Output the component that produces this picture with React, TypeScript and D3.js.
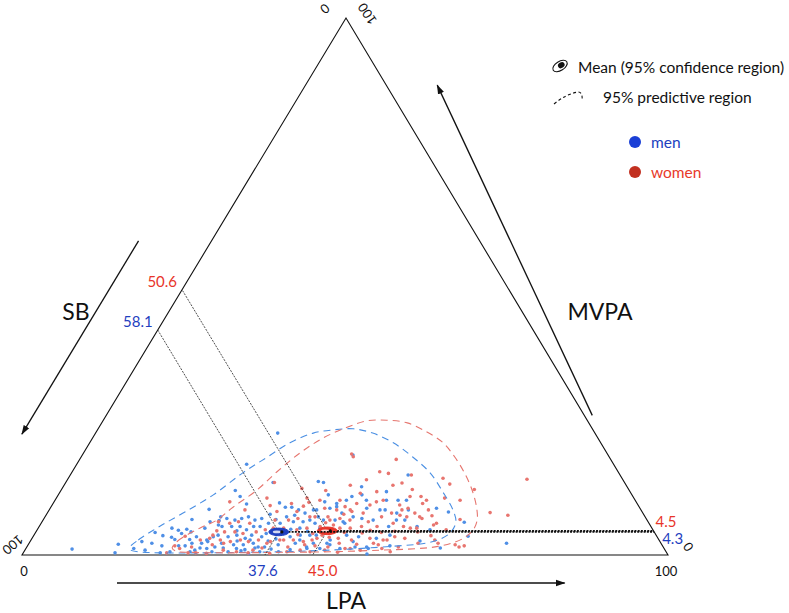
import React from 'react';
import * as d3 from 'd3';

// [LPA %, MVPA %]; SB = 100 - LPA - MVPA
const menPoints: [number, number][] = [
  [24.7,8.5],[20.7,5.0],[18.5,4.2],[17.3,2.5],[16.7,1.2],[19.0,2.2],[20.8,1.7],[22.7,4.0],[23.1,4.8],[24.0,4.3],
  [25.3,3.4],[25.8,5.0],[26.0,6.2],[27.6,5.6],[26.7,2.2],[24.5,2.9],[24.4,1.7],[22.2,2.9],[23.4,1.7],[22.6,0.6],
  [26.3,0.9],[28.0,1.2],[29.1,1.5],[27.9,3.4],[13.9,2.0],[14.2,0.4],[7.2,1.1],[32.1,13.5],[27.0,12.0],[28.3,6.8],
  [28.3,10.9],[27.3,6.4],[21.9,4.6],[21.5,3.3],[28.2,22.7],[26.3,16.9],[35.0,9.7],[36.3,8.9],[37.3,8.9],[38.6,8.4],
  [39.9,7.8],[38.5,7.4],[37.4,7.1],[27.2,7.1],[29.7,6.5],[30.6,6.8],[31.5,7.1],[32.8,6.5],[33.7,6.8],[28.3,5.3],
  [29.8,5.3],[31.1,5.3],[32.4,4.7],[33.2,5.3],[34.2,5.3],[35.2,5.9],[37.0,5.9],[38.9,6.2],[40.4,6.2],[41.3,6.5],
  [28.5,3.7],[30.2,3.4],[31.4,3.7],[33.0,3.1],[33.7,3.7],[35.4,3.4],[39.8,3.4],[41.2,3.7],[42.7,3.7],[29.8,2.2],
  [31.8,1.9],[33.3,1.9],[34.7,2.2],[36.8,1.5],[38.7,1.9],[41.2,2.2],[43.3,1.5],[31.6,0.6],[34.9,0.3],[36.5,0.6],
  [39.4,0.6],[41.9,18.6],[39.0,13.7],[39.9,13.5],[46.2,12.7],[52.3,14.9],[50.5,11.8],[53.1,10.2],[54.4,10.2],[47.0,11.2],
  [45.1,10.2],[41.8,11.2],[41.9,9.9],[43.9,9.6],[45.6,10.9],[51.2,8.4],[52.0,8.4],[49.0,8.7],[41.4,8.4],[43.3,8.7],
  [45.6,7.8],[47.7,7.1],[49.2,6.8],[43.4,6.5],[45.2,6.5],[42.4,5.9],[47.0,5.9],[51.1,6.5],[54.7,6.5],[56.0,6.5],
  [54.1,5.3],[43.7,3.7],[48.4,3.7],[50.4,3.4],[53.3,3.1],[55.1,3.7],[44.0,2.2],[46.7,1.9],[48.6,1.2],[50.8,1.5],
  [53.0,1.2],[53.3,0.2],[59.8,8.7],[62.0,8.0],[65.4,6.1],[60.8,4.7],[67.3,3.5],[73.9,2.2],[55.6,8.4],[36.4,4.7],
  [38.6,4.3],[36.8,2.6],[40.5,5.0],[35.4,1.3],[29.1,0.6],[25.7,0.6],[21.2,0.4],[18.6,0.9],[26.9,1.3],[43.6,5.0],
  [46.3,2.8],[64.1,1.3],[60.3,2.6],[56.1,1.7],
  [34.0,1.0],[37.8,3.0],[32.0,2.6],[30.5,1.3],[35.8,4.0],[38.0,1.1],[27.5,2.5],[25.2,2.2],[33.5,0.8],[31.0,4.5],
  [39.2,4.8],[42.0,4.4],[44.8,4.3],[36.0,6.6],[34.6,7.6],[30.0,9.5],[23.0,6.6],[20.0,3.6],[45.5,1.2],[41.0,1.0],
  [27.2,2.8],[32.6,1.2],[33.9,2.8],[35.8,1.5],[41.6,2.8],[43.5,1.2],[40.9,8.4],[42.3,7.1],[44.2,9.0],[46.6,6.2],
  [48.2,10.2],[51.3,10.2],[54.1,7.8],[58.5,5.3],[46.1,2.2],[50.0,2.5],[52.6,1.5]
];

const womenPoints: [number, number][] = [
  [22.8,1.7],[23.8,1.2],[25.5,1.5],[26.2,2.8],[27.5,3.1],[27.9,4.5],[27.3,6.2],[25.5,0.4],[28.4,0.3],[22.2,0.4],
  [32.3,13.5],[27.2,9.9],[32.6,10.6],[37.1,12.4],[38.8,10.6],[36.9,9.6],[39.0,9.1],[35.4,8.1],[38.5,8.1],[29.2,5.9],
  [30.4,6.2],[32.3,5.9],[35.9,6.5],[38.0,6.5],[39.3,6.8],[29.2,4.3],[30.8,4.3],[32.2,4.0],[34.1,4.3],[35.3,4.7],
  [36.4,5.0],[38.0,5.0],[40.2,4.7],[41.6,5.0],[29.3,2.8],[31.0,2.5],[32.4,2.8],[33.8,2.5],[35.2,2.8],[37.2,2.5],
  [39.1,2.8],[40.6,2.8],[42.3,2.5],[43.5,2.8],[30.7,0.9],[32.9,0.6],[35.3,0.9],[38.2,0.3],[40.7,0.6],[42.6,0.9],
  [44.3,0.6],[49.0,17.8],[47.6,15.5],[49.1,15.2],[46.3,14.0],[52.1,13.4],[50.9,13.0],[49.0,11.8],[50.8,10.2],[47.0,9.6],
  [49.2,9.3],[49.9,9.9],[53.8,9.3],[45.5,9.0],[42.5,8.7],[44.5,8.4],[47.0,8.1],[48.9,7.8],[53.3,7.8],[54.6,8.4],
  [55.4,8.7],[41.8,7.1],[43.8,7.1],[45.8,6.8],[47.5,6.5],[50.5,6.2],[52.1,7.1],[54.8,7.4],[56.0,7.1],[43.5,5.3],
  [45.4,5.6],[48.3,5.0],[49.9,5.3],[52.3,5.3],[54.5,5.9],[56.4,5.3],[44.1,3.1],[47.4,3.1],[49.6,2.8],[52.3,3.1],
  [54.5,2.8],[56.0,3.4],[57.7,3.1],[46.6,1.5],[49.4,1.2],[51.9,0.9],[55.1,1.2],[57.5,1.5],[56.7,0.6],[52.8,14.9],
  [58.0,14.3],[59.6,13.2],[54.3,12.2],[56.3,10.9],[54.6,10.9],[60.1,10.6],[62.7,10.2],[63.9,12.2],[58.7,8.4],[59.8,7.3],
  [56.9,7.8],[58.5,6.8],[64.5,6.6],[68.5,7.9],[71.5,7.4],[60.9,5.6],[57.6,5.0],[58.6,5.0],[63.3,4.7],[66.1,1.9],
  [63.3,2.2],[66.9,1.5],[67.6,1.7],[60.2,2.2],[62.5,2.8],[71.1,14.1],[41.6,18.8],[42.1,18.3],[44.6,3.7],[45.4,4.5],
  [44.5,1.7],[46.4,0.9],[36.5,1.3],[34.8,0.4],[26.7,0.4],[28.5,1.9],[46.7,5.0],[50.6,4.1],[54.2,1.9],[59.1,4.3],
  [40.4,1.5],[23.5,3.5],[30.3,8.4],
  [43.0,4.0],[45.9,3.3],[47.8,4.2],[42.8,1.9],[48.0,2.2],[50.8,2.0],[44.0,6.0],[40.8,3.8],[37.9,4.1],[46.0,7.6],
  [51.6,4.6],[53.5,4.2],[55.5,4.4],[39.5,9.8],[33.8,9.2],[41.0,12.0],[44.3,13.0],[57.2,9.6],[61.5,3.6],[48.6,0.5],
  [27.7,3.7],[30.1,2.2],[36.8,2.2],[38.5,2.8],[41.0,7.1],[41.0,10.2],[44.4,6.5],[44.1,10.2],[46.6,8.4],[46.6,11.5],
  [58.0,7.1],[57.5,10.2],[61.2,5.9],[55.1,2.8],[50.2,1.2],[53.3,2.2]
];

// 95% predictive regions, [LPA %, MVPA %]
const menRegion: [number, number][] = [
  [16.0,1.5],[16.6,2.8],[18.7,5.4],[21.2,8.0],[24.0,11.2],[26.5,15.3],[28.8,18.2],[31.0,20.9],[33.7,22.7],[36.5,23.3],
  [39.5,23.5],[42.9,22.7],[47.0,20.9],[51.4,18.2],[55.5,15.3],[59.3,11.7],[62.5,8.4],[64.1,6.1],[64.2,4.1],[63.0,2.8],
  [60.9,2.1],[58.4,1.8],[50.2,1.1],[42.7,0.7],[35.1,0.5],[27.4,0.4],[21.2,0.4],[17.7,0.6],[16.4,0.9]
];
const womenRegion: [number, number][] = [
  [22.6,1.3],[22.8,2.6],[25.0,5.0],[26.9,6.5],[28.2,8.9],[30.3,12.1],[31.7,15.5],[33.5,19.0],[35.7,21.8],[38.4,23.8],
  [40.9,25.0],[43.9,25.1],[47.3,24.6],[51.2,22.9],[54.7,20.9],[58.0,18.1],[61.0,15.1],[63.6,12.1],[65.9,8.9],[67.2,6.5],
  [67.5,4.7],[67.0,3.4],[65.8,2.4],[63.6,1.6],[60.7,1.2],[55.0,0.9],[47.4,0.6],[39.7,0.5],[32.0,0.4],[25.8,0.5],[23.5,0.7]
];

const menMean = { SB: 58.1, LPA: 37.6, MVPA: 4.3 };
const womenMean = { SB: 50.6, LPA: 45.0, MVPA: 4.5 };
const axisNames = ['SB', 'LPA', 'MVPA'];
const legendLabels = ['Mean (95% confidence region)', '95% predictive region', 'men', 'women'];

const FONT = 'Lato, "Liberation Sans", Arial, sans-serif';
const W = 789, H = 613;
const A = { x: 22, y: 555 };   // SB = 100
const B = { x: 668, y: 555 };  // LPA = 100
const C = { x: 346, y: 18 };   // MVPA = 100

const yScale = d3.scaleLinear().domain([0, 100]).range([A.y, C.y]);
const lpaScale = d3.scaleLinear().domain([0, 100]).range([0, B.x - A.x]);
const mvShift = d3.scaleLinear().domain([0, 100]).range([0, C.x - A.x]);
const proj = (lpa: number, mv: number): [number, number] => [A.x + lpaScale(lpa) + mvShift(mv), yScale(mv)];

const regionLine = d3.line<[number, number]>()
  .x(d => proj(d[0], d[1])[0])
  .y(d => proj(d[0], d[1])[1])
  .curve(d3.curveCatmullRomClosed.alpha(0.5));

const C_MEN_PT = '#4f8fe6';
const C_WOMEN_PT = '#e8756f';
const C_MEN = '#1f3fbf';
const C_WOMEN = '#e8352a';

function MeanGroup({ m, color, lpaDx, mvDx, mvDy }: any) {
  const p = proj(m.LPA, m.MVPA);
  const pSB = proj(0, 100 - m.SB);
  const pLPA = proj(m.LPA, 0);
  const pMV = proj(100 - m.MVPA, m.MVPA);
  return (
    <g>
      <line x1={p[0]} y1={p[1]} x2={pSB[0]} y2={pSB[1]} stroke="#222" strokeWidth={0.8} strokeDasharray="2,1.2" />
      <line x1={p[0]} y1={p[1]} x2={pLPA[0]} y2={pLPA[1]} stroke="#222" strokeWidth={0.8} strokeDasharray="2,1.2" />
      <line x1={p[0]} y1={p[1]} x2={pMV[0]} y2={pMV[1]} stroke="#111" strokeWidth={1.6} strokeDasharray="2,1.2" />
      <ellipse cx={p[0]} cy={p[1]} rx={10} ry={3.8} fill={color} stroke={color} strokeWidth={1} />
      <ellipse cx={p[0] - 2} cy={p[1]} rx={4} ry={1.4} fill="#fff" opacity={0.8} />
      <circle cx={p[0] + 3} cy={p[1]} r={1.6} fill="#111" />
      <text x={pSB[0] - 5} y={pSB[1] - 3} textAnchor="end" fontSize={15} fill={color} fontFamily={FONT}>{m.SB.toFixed(1)}</text>
      <text x={pLPA[0] + lpaDx} y={576} textAnchor="middle" fontSize={15} fill={color} fontFamily={FONT}>{m.LPA.toFixed(1)}</text>
      <text x={pMV[0] + mvDx} y={pMV[1] + mvDy} textAnchor="start" fontSize={15} fill={color} fontFamily={FONT}>{m.MVPA.toFixed(1)}</text>
    </g>
  );
}

export default function App() {
  // arrows beside the sides: SB grows toward the bottom-left, MVPA toward the top, LPA toward the right
  const leftArrow = [proj(0, 58.5), proj(0, 22.5)].map(d => [d[0] - 73, d[1]]);
  const rightArrow = [proj(74, 26), proj(12.5, 87.5)].map((d, i) => [d[0] + (i === 0 ? 8 : 51), d[1]]);
  const bottomArrow = [proj(14.7, 0), proj(84, 0)].map(d => [d[0], d[1] + 28]);
  const tick = (x: number, y: number, rot: number, s: string) => (
    <text transform={`translate(${x},${y}) rotate(${rot})`} textAnchor="middle" dominantBaseline="central"
      fontSize={13} fontFamily={FONT} fill="#111">{s}</text>
  );
  return (
    <svg width={W} height={H} style={{ position: 'absolute', left: 0, top: 0, background: '#fff' }}>
      <defs>
        <marker id="ah" viewBox="0 0 12 10" refX="11" refY="5" markerWidth="10" markerHeight="8" orient="auto" markerUnits="userSpaceOnUse">
          <path d="M0,1 L12,5 L0,9 z" fill="#111" />
        </marker>
      </defs>
      <rect width={W} height={H} fill="#fff" />
      <polygon points={`${A.x},${A.y} ${B.x},${B.y} ${C.x},${C.y}`} fill="none" stroke="#111" strokeWidth={1.1} />

      {menPoints.map((d, i) => {
        const p = proj(d[0], d[1]);
        return <circle key={'m' + i} cx={p[0]} cy={p[1]} r={1.8} fill={C_MEN_PT} />;
      })}
      {womenPoints.map((d, i) => {
        const p = proj(d[0], d[1]);
        return <circle key={'w' + i} cx={p[0]} cy={p[1]} r={1.8} fill={C_WOMEN_PT} />;
      })}

      <path d={regionLine(menRegion) || ''} fill="none" stroke="#4a8fe3" strokeWidth={1.1} strokeDasharray="7,5" />
      <path d={regionLine(womenRegion) || ''} fill="none" stroke="#e6766f" strokeWidth={1.1} strokeDasharray="7,5" />

      <MeanGroup m={womenMean} color={C_WOMEN} lpaDx={10} mvDx={2} mvDy={-4} />
      <MeanGroup m={menMean} color={C_MEN} lpaDx={-2} mvDx={8} mvDy={12} />

      {/* arrows */}
      <line x1={leftArrow[0][0]} y1={leftArrow[0][1]} x2={leftArrow[1][0]} y2={leftArrow[1][1]} stroke="#111" strokeWidth={1.3} markerEnd="url(#ah)" />
      <line x1={rightArrow[0][0]} y1={rightArrow[0][1]} x2={rightArrow[1][0]} y2={rightArrow[1][1]} stroke="#111" strokeWidth={1.3} markerEnd="url(#ah)" />
      <line x1={bottomArrow[0][0]} y1={bottomArrow[0][1]} x2={bottomArrow[1][0]} y2={bottomArrow[1][1]} stroke="#111" strokeWidth={1.3} markerEnd="url(#ah)" />

      {/* axis titles */}
      <text x={76} y={311} textAnchor="middle" dominantBaseline="central" fontSize={23} fontFamily={FONT} fill="#111">{axisNames[0]}</text>
      <text x={346} y={600} textAnchor="middle" dominantBaseline="central" fontSize={23} fontFamily={FONT} fill="#111">{axisNames[1]}</text>
      <text x={600} y={311} textAnchor="middle" dominantBaseline="central" fontSize={23} fontFamily={FONT} fill="#111">{axisNames[2]}</text>

      {/* vertex ticks */}
      {tick(24, 571, 0, '0')}
      {tick(666, 571, 0, '100')}
      {tick(13, 545, 140, '100')}
      {tick(325, 9, 140, '0')}
      {tick(367, 14, 235, '100')}
      {tick(688, 547, 235, '0')}

      {/* legend */}
      <g transform="translate(560,66) rotate(-32)">
        <ellipse cx={0} cy={0} rx={8} ry={4.5} fill="#fff" stroke="#111" strokeWidth={1.1} />
        <ellipse cx={1.5} cy={0} rx={3.5} ry={2.8} fill="#111" />
      </g>
      <text x={578} y={67} dominantBaseline="central" fontSize={15.5} fontFamily={FONT} fill="#111">{legendLabels[0]}</text>
      <path d="M554,104 Q566,94 578,92 Q583,92 582,101" fill="none" stroke="#111" strokeWidth={1.1} strokeDasharray="3,2.5" />
      <text x={603} y={97} dominantBaseline="central" fontSize={15.5} fontFamily={FONT} fill="#111">{legendLabels[1]}</text>
      <circle cx={635} cy={142} r={6} fill="#1a3fd6" />
      <text x={651} y={142} dominantBaseline="central" fontSize={15.5} fontFamily={FONT} fill="#2040c0">{legendLabels[2]}</text>
      <circle cx={635} cy={172} r={6} fill="#c23020" />
      <text x={651} y={172} dominantBaseline="central" fontSize={15.5} fontFamily={FONT} fill="#e83a2a">{legendLabels[3]}</text>
    </svg>
  );
}
